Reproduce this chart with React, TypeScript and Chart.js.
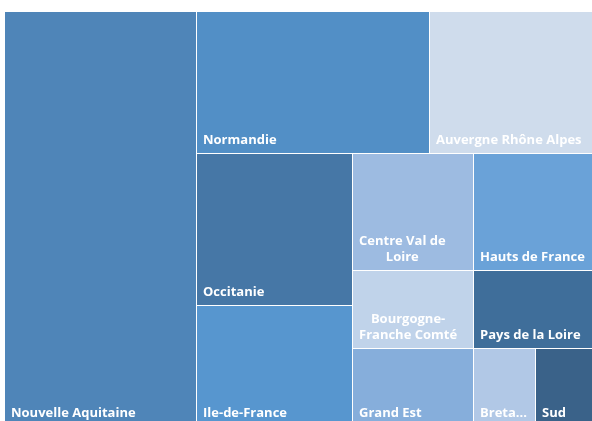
import React, { useEffect, useRef } from "react";
import { Chart, registerables } from "chart.js";

Chart.register(...registerables);

const regions = [
  "Nouvelle Aquitaine",
  "Normandie",
  "Auvergne Rhône Alpes",
  "Occitanie",
  "Ile-de-France",
  "Centre Val de Loire",
  "Hauts de France",
  "Bourgogne-Franche Comté",
  "Pays de la Loire",
  "Grand Est",
  "Bretagne",
  "Sud",
];
const values = [784, 325, 228, 233, 186, 139, 137, 93, 91, 93, 48, 44];
const colors = [
  "#4f85b8",
  "#528fc6",
  "#cfdcec",
  "#4677a6",
  "#5796cf",
  "#9dbbe1",
  "#6aa2d8",
  "#c0d3ea",
  "#3f6e9a",
  "#86aedb",
  "#b1c8e6",
  "#3a6289",
];

// arrangement of the tiles (indices into the arrays above)
type Node = number | { dir: "h" | "v"; children: Node[] };
const arrangement: Node = {
  dir: "h",
  children: [
    0,
    {
      dir: "v",
      children: [
        { dir: "h", children: [1, 2] },
        {
          dir: "h",
          children: [
            { dir: "v", children: [3, 4] },
            {
              dir: "v",
              children: [
                { dir: "h", children: [5, 6] },
                { dir: "h", children: [7, 8] },
                { dir: "h", children: [9, 10, 11] },
              ],
            },
          ],
        },
      ],
    },
  ],
};

function sumNode(n: Node): number {
  if (typeof n === "number") return values[n];
  return n.children.reduce((a, c) => a + sumNode(c), 0);
}

type Rect = { i: number; x0: number; y0: number; x1: number; y1: number };
function layout(n: Node, x0: number, y0: number, x1: number, y1: number, out: Rect[]) {
  if (typeof n === "number") {
    out.push({ i: n, x0, y0, x1, y1 });
    return;
  }
  const total = sumNode(n);
  let pos = n.dir === "h" ? x0 : y0;
  for (const c of n.children) {
    const f = sumNode(c) / total;
    if (n.dir === "h") {
      const w = (x1 - x0) * f;
      layout(c, pos, y0, pos + w, y1, out);
      pos += w;
    } else {
      const h = (y1 - y0) * f;
      layout(c, x0, pos, x1, pos + h, out);
      pos += h;
    }
  }
}

const FONT = "bold 13px 'Open Sans', Lato, sans-serif";

function wrapLabel(ctx: CanvasRenderingContext2D, text: string, maxW: number): string[] {
  if (ctx.measureText(text).width <= maxW) return [text];
  const tokens: string[] = [];
  text.split(" ").forEach((w) => {
    const parts = w.split(/(?<=-)/);
    parts.forEach((p, k) => tokens.push(p + (k === parts.length - 1 ? " " : "")));
  });
  const lines: string[] = [];
  let cur = "";
  for (const t of tokens) {
    const trial = cur + t;
    if (cur && ctx.measureText(trial.trimEnd()).width > maxW) {
      lines.push(cur.trimEnd());
      cur = t;
    } else {
      cur = trial;
    }
  }
  if (cur) lines.push(cur.trimEnd());
  return lines.map((l) => {
    if (ctx.measureText(l).width <= maxW) return l;
    let s = l;
    while (s.length > 1 && ctx.measureText(s + "...").width > maxW) s = s.slice(0, -1);
    return s + "...";
  });
}

const treemapPlugin = {
  id: "treemapCells",
  afterDatasetsDraw(chart: any) {
    const ctx: CanvasRenderingContext2D = chart.ctx;
    const xs = chart.scales.x;
    const ys = chart.scales.y;
    const rects: Rect[] = [];
    layout(arrangement, 0, 0, 1, 1, rects);
    ctx.save();
    for (const r of rects) {
      const px0 = Math.round(xs.getPixelForValue(r.x0));
      const px1 = Math.round(xs.getPixelForValue(r.x1));
      const py0 = Math.round(ys.getPixelForValue(r.y0));
      const py1 = Math.round(ys.getPixelForValue(r.y1));
      ctx.fillStyle = colors[r.i];
      ctx.fillRect(px0 + 1, py0 + 1, px1 - px0 - 1, py1 - py0 - 1);
      ctx.font = FONT;
      ctx.fillStyle = "#ffffff";
      ctx.textBaseline = "alphabetic";
      const w = px1 - px0;
      const lines = wrapLabel(ctx, regions[r.i], w - 10);
      const widths = lines.map((l) => ctx.measureText(l).width);
      const blockW = Math.max(...widths);
      const left = px0 + 7;
      lines.forEach((l, k) => {
        const base = py1 - 9 - (lines.length - 1 - k) * 16;
        const lx = lines.length > 1 ? left + (blockW - widths[k]) / 2 : left;
        ctx.fillText(l, lx, base);
      });
    }
    ctx.restore();
  },
};

export default function App() {
  const ref = useRef<HTMLCanvasElement>(null);
  useEffect(() => {
    document.body.style.margin = "0";
    document.documentElement.style.overflow = "hidden";
    const chart = new Chart(ref.current!, {
      type: "scatter",
      data: { datasets: [{ data: [] }] },
      options: {
        animation: false,
        responsive: false,
        layout: { padding: { left: 4, top: 11, right: 0, bottom: 0 } },
        plugins: { legend: { display: false }, tooltip: { enabled: false }, title: { display: false } },
        scales: {
          x: { type: "linear", min: 0, max: 1, display: false },
          y: { type: "linear", min: 0, max: 1, reverse: true, display: false },
        },
      },
      plugins: [treemapPlugin],
    });
    return () => chart.destroy();
  }, []);
  return (
    <div style={{ position: "fixed", left: 0, top: 0, width: 592, height: 421, overflow: "hidden", background: "#fff" }}>
      <canvas ref={ref} width={592} height={426} style={{ display: "block" }} />
    </div>
  );
}
